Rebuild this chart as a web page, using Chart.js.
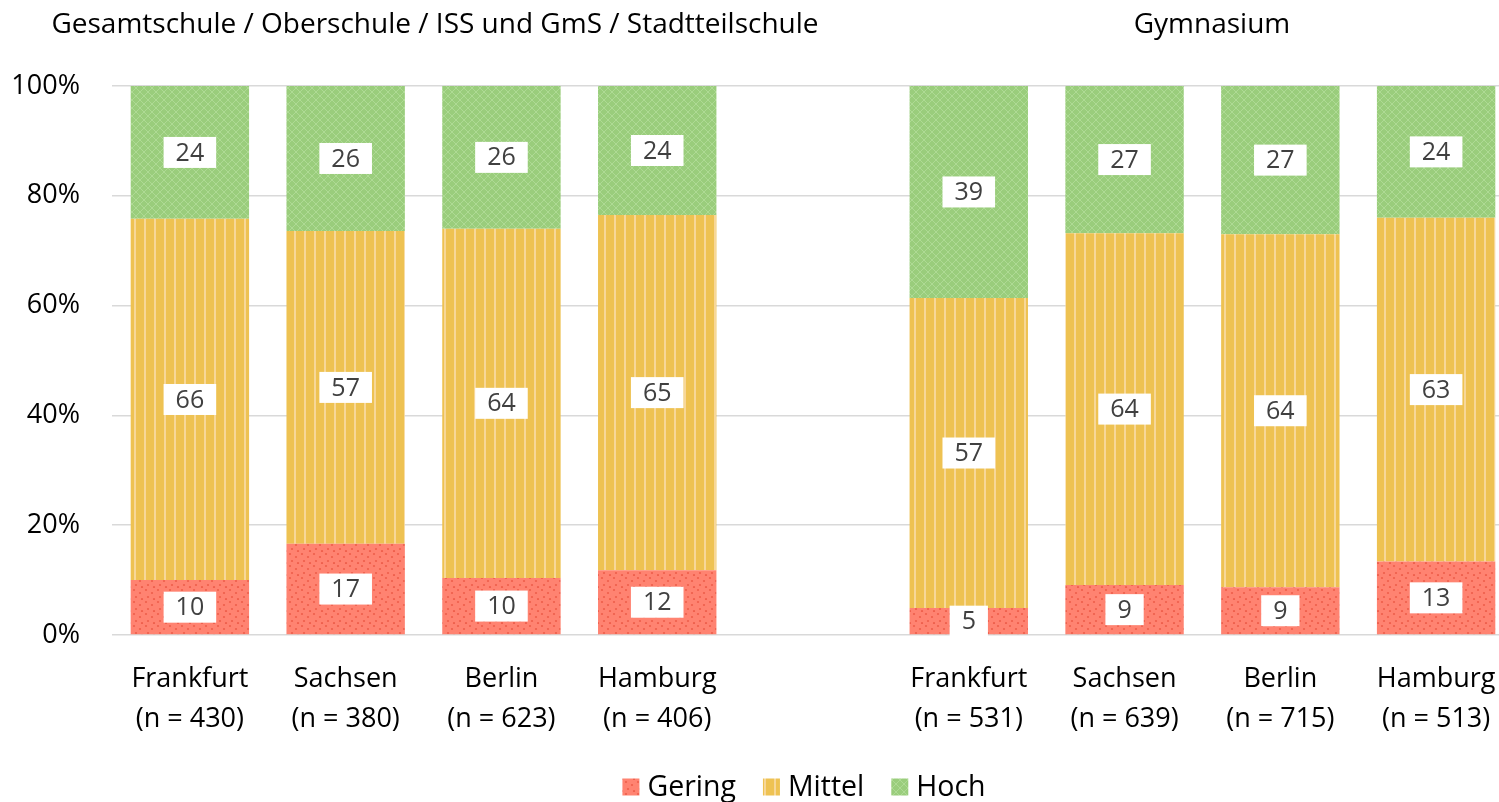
<!DOCTYPE html>
<html><head><meta charset="utf-8">
<script src="https://cdn.jsdelivr.net/npm/chart.js@4"></script>
<style>html,body{margin:0;padding:0;overflow:hidden;background:#fff;width:1499px;height:802px}canvas{display:block}</style>
</head><body>
<canvas id="c" width="1514" height="802" style="width:1514px;height:802px"></canvas>
<script>
const categories = [['Frankfurt','(n = 430)'],['Sachsen','(n = 380)'],['Berlin','(n = 623)'],['Hamburg','(n = 406)'],'',['Frankfurt','(n = 531)'],['Sachsen','(n = 639)'],['Berlin','(n = 715)'],['Hamburg','(n = 513)']];
const gering = [10.0, 16.6, 10.4, 11.8, null, 4.9, 9.1, 8.7, 13.4];
const mittel = [65.8, 57.0, 63.6, 64.7, null, 56.5, 64.1, 64.3, 62.6];
const hoch   = [24.2, 26.4, 26.0, 23.5, null, 38.6, 26.8, 27.0, 24.0];
const seriesNames = ['Gering', 'Mittel', 'Hoch'];
const groupTitles = ['Gesamtschule / Oberschule / ISS und GmS / Stadtteilschule', 'Gymnasium'];
const yTicks = [0, 20, 40, 60, 80, 100];

const FONT = '"Open Sans", "Noto Sans", sans-serif';

function makePattern(w, h, draw) {
  const c = document.createElement('canvas');
  c.width = w; c.height = h;
  const g = c.getContext('2d');
  draw(g, w, h);
  return document.getElementById('c').getContext('2d').createPattern(c, 'repeat');
}
const pGering = makePattern(12, 12, (g, w, h) => {
  g.fillStyle = '#FF8371'; g.fillRect(0, 0, w, h);
  g.fillStyle = '#EE5F4C';
  [[2,2],[8,5],[4,9],[10,11]].forEach(([x,y]) => { g.beginPath(); g.arc(x, y, 1.1, 0, Math.PI*2); g.fill(); });
});
const pMittel = makePattern(10, 10, (g, w, h) => {
  g.fillStyle = '#EEC252'; g.fillRect(0, 0, w, h);
  g.fillStyle = '#F7D798'; g.fillRect(4, 0, 2, h);
});
const pHoch = makePattern(8, 8, (g, w, h) => {
  g.fillStyle = '#9ACD7C'; g.fillRect(0, 0, w, h);
  g.strokeStyle = '#AEDA94'; g.lineWidth = 1;
  g.beginPath(); g.moveTo(0, 0); g.lineTo(8, 8); g.moveTo(8, 0); g.lineTo(0, 8); g.stroke();
});

const labelPlugin = {
  id: 'boxLabels',
  afterDatasetsDraw(chart) {
    const ctx = chart.ctx;
    ctx.save();
    ctx.font = '25px ' + FONT;
    ctx.textAlign = 'center';
    ctx.textBaseline = 'middle';
    chart.data.datasets.forEach((ds, di) => {
      const meta = chart.getDatasetMeta(di);
      meta.data.forEach((bar, i) => {
        const v = ds.data[i];
        if (v == null) return;
        const t = String(Math.round(v));
        const cy = (bar.y + bar.base) / 2;
        const tw = ctx.measureText(t).width;
        const bw = tw + 24, bh = 31;
        ctx.fillStyle = '#fff';
        ctx.fillRect(bar.x - bw / 2, cy - bh / 2, bw, bh);
        ctx.fillStyle = '#404040';
        ctx.fillText(t, bar.x, cy + 1);
      });
    });
    ctx.restore();
  }
};

const titleLegendPlugin = {
  id: 'titlesLegend',
  afterDraw(chart) {
    const ctx = chart.ctx;
    ctx.save();
    ctx.font = '28px ' + FONT;
    ctx.fillStyle = '#000';
    ctx.textAlign = 'center';
    ctx.textBaseline = 'middle';
    ctx.fillText(groupTitles[0], 435, 25);
    ctx.fillText(groupTitles[1], 1212, 25);
    // legend
    ctx.font = '28.5px ' + FONT;
    ctx.textAlign = 'left';
    const box = 17, gap = 8, spacing = 27, cy = 787;
    const widths = chart.data.datasets.map(d => ctx.measureText(d.label).width);
    const total = widths.reduce((a, w) => a + box + gap + w, 0) + spacing * (widths.length - 1);
    let x = 804 - total / 2;
    chart.data.datasets.forEach((d, i) => {
      ctx.fillStyle = d.backgroundColor;
      ctx.fillRect(x, cy - box / 2, box, box);
      ctx.fillStyle = '#000';
      ctx.fillText(d.label, x + box + gap, cy + 1);
      x += box + gap + widths[i] + spacing;
    });
    ctx.restore();
  }
};

new Chart(document.getElementById('c'), {
  type: 'bar',
  data: {
    labels: categories,
    datasets: [
      { label: seriesNames[0], data: gering, backgroundColor: pGering },
      { label: seriesNames[1], data: mittel, backgroundColor: pMittel },
      { label: seriesNames[2], data: hoch, backgroundColor: pHoch }
    ]
  },
  options: {
    responsive: false,
    animation: false,
    devicePixelRatio: 1,
    layout: { padding: { top: 86, right: 0, left: 0, bottom: 0 } },
    datasets: { bar: { categoryPercentage: 1, barPercentage: 0.76 } },
    plugins: {
      legend: { display: false },
      tooltip: { enabled: false }
    },
    scales: {
      x: {
        stacked: true,
        grid: { display: false },
        border: { display: false },
        ticks: { font: { family: FONT, size: 27, lineHeight: 1.48 }, color: '#000', padding: 16, maxRotation: 0, autoSkip: false },
        afterFit(s) { s.height = 167; }
      },
      y: {
        stacked: true,
        min: 0, max: 100,
        afterBuildTicks(s) { s.ticks = yTicks.map(v => ({ value: v })); },
        grid: { color: '#D9D9D9', lineWidth: 1.5, drawTicks: false },
        border: { display: false },
        ticks: { font: { family: FONT, size: 27 }, color: '#000', padding: 32, callback: v => v + '%' },
        afterFit(s) { s.width = 112; }
      }
    }
  },
  plugins: [labelPlugin, titleLegendPlugin]
});
</script>
</body></html>
